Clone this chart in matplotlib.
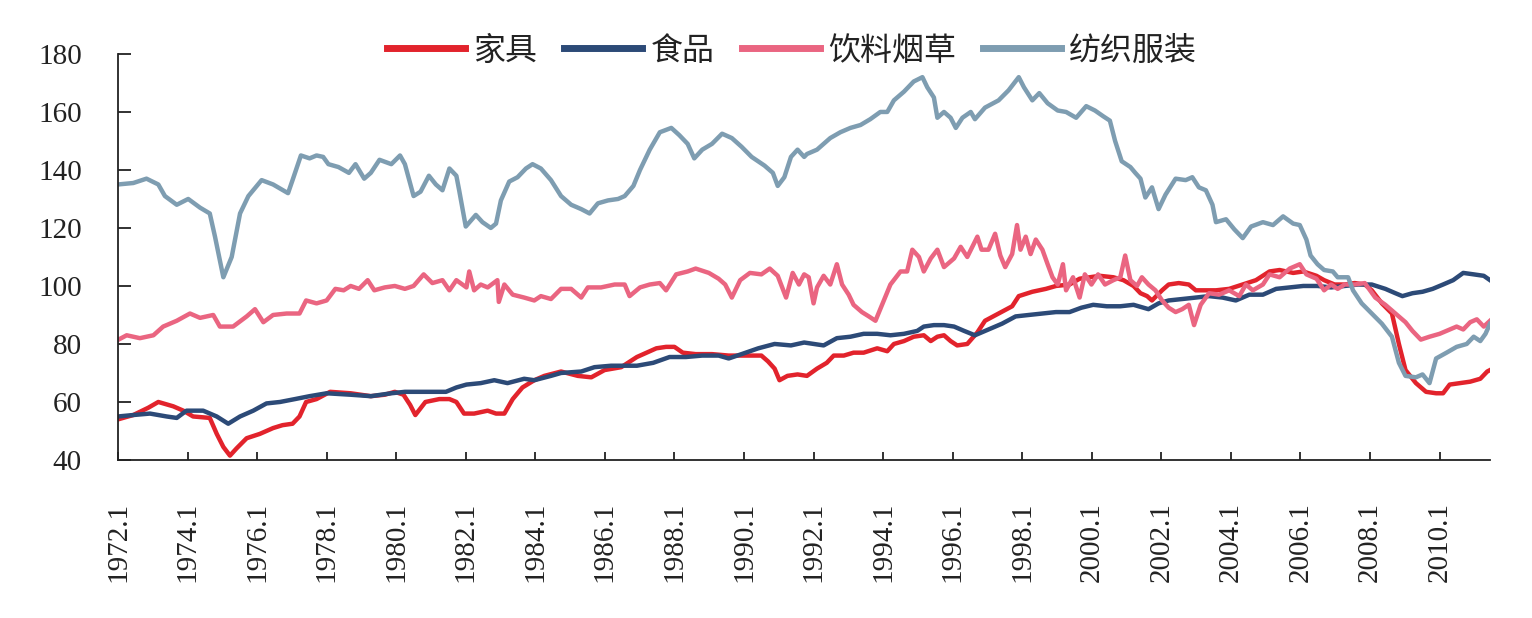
import matplotlib
matplotlib.use("Agg")
import matplotlib.pyplot as plt
from matplotlib.font_manager import FontProperties

# ---------------- data (decimal year, index value) ----------------
furniture_x = [1972.00, 1972.44, 1972.87, 1973.16, 1973.59, 1973.88, 1974.16, 1974.64, 1974.84, 1975.03,
               1975.22, 1975.41, 1975.70, 1976.08, 1976.46, 1976.73, 1977.02, 1977.22, 1977.41, 1977.71,
               1978.10, 1978.69, 1979.27, 1979.67, 1979.96, 1980.21, 1980.40, 1980.55, 1980.84, 1981.24,
               1981.53, 1981.73, 1981.95, 1982.24, 1982.63, 1982.87, 1983.11, 1983.35, 1983.63, 1983.97,
               1984.26, 1984.74, 1985.22, 1985.61, 1985.99, 1986.47, 1986.92, 1987.20, 1987.48, 1987.76,
               1988.00, 1988.24, 1988.61, 1989.08, 1989.56, 1990.03, 1990.50, 1990.69, 1990.88, 1991.02,
               1991.25, 1991.54, 1991.81, 1992.10, 1992.38, 1992.58, 1992.87, 1993.15, 1993.44, 1993.83,
               1994.12, 1994.31, 1994.60, 1994.88, 1995.17, 1995.37, 1995.56, 1995.75, 1995.94, 1996.13,
               1996.42, 1996.71, 1996.93, 1997.32, 1997.71, 1997.90, 1998.29, 1998.68, 1998.97, 1999.36,
               1999.65, 1999.94, 2000.23, 2000.62, 2000.91, 2001.20, 2001.40, 2001.59, 2001.73, 2002.02,
               2002.21, 2002.50, 2002.79, 2002.99, 2003.57, 2003.95, 2004.34, 2004.72, 2005.11, 2005.40,
               2005.79, 2006.08, 2006.46, 2006.68, 2006.98, 2007.27, 2007.56, 2007.85, 2008.05, 2008.34,
               2008.63, 2008.83, 2009.02, 2009.32, 2009.61, 2009.90, 2010.10, 2010.29, 2010.59, 2010.88,
               2011.17, 2011.37, 2011.45]
furniture_y = [54, 55.5, 58, 60, 58.5, 57, 55, 54.5, 49, 44.5,
               41.5, 44, 47.5, 49, 51, 52, 52.5, 55, 60, 61,
               63.5, 63, 62, 62.5, 63.5, 62.5, 59, 55.5, 60, 61,
               61, 60, 56, 56, 57, 56, 56, 61, 65, 67.5,
               69, 70.5, 69, 68.5, 71, 72, 75.5, 77, 78.5, 79,
               79, 77, 76.5, 76.5, 76, 76, 76, 74, 71.5, 67.5,
               69, 69.5, 69, 71.5, 73.5, 76, 76, 77, 77, 78.5,
               77.5, 80, 81, 82.5, 83, 81, 82.5, 83, 81, 79.5,
               80, 84, 88, 90.5, 93, 96.5, 98, 99, 100, 100.5,
               102.5, 103, 103.5, 103, 102, 100, 97.5, 96.5, 95, 98.5,
               100.5, 101, 100.5, 98.5, 98.5, 99, 100.5, 102, 105, 105.5,
               104.5, 105, 103.5, 102, 100.5, 100.5, 101, 100.5, 98.5, 94,
               90.5, 80, 71, 66.5, 63.5, 63, 63, 66, 66.5, 67,
               68, 70.5, 71]

food_x = [1972.00, 1972.44, 1972.92, 1973.40, 1973.69, 1973.97, 1974.45, 1974.84, 1975.17, 1975.51,
          1975.89, 1976.27, 1976.66, 1977.09, 1977.51, 1978.00, 1978.69, 1979.27, 1979.86, 1980.25,
          1980.84, 1981.43, 1981.73, 1982.02, 1982.43, 1982.82, 1983.20, 1983.68, 1983.97, 1984.45,
          1984.74, 1985.32, 1985.70, 1986.18, 1986.47, 1986.92, 1987.39, 1987.86, 1988.33, 1988.80,
          1989.27, 1989.56, 1989.93, 1990.41, 1990.88, 1991.35, 1991.73, 1992.29, 1992.67, 1993.06,
          1993.44, 1993.83, 1994.21, 1994.60, 1994.98, 1995.17, 1995.46, 1995.75, 1996.04, 1996.33,
          1996.64, 1997.03, 1997.42, 1997.81, 1998.19, 1998.58, 1998.97, 1999.36, 1999.70, 2000.04,
          2000.43, 2000.82, 2001.20, 2001.63, 2001.92, 2002.21, 2002.60, 2002.99, 2003.37, 2003.76,
          2004.14, 2004.53, 2004.92, 2005.30, 2005.69, 2006.08, 2006.49, 2006.88, 2007.27, 2007.66,
          2008.05, 2008.44, 2008.73, 2008.93, 2009.22, 2009.51, 2009.80, 2010.10, 2010.39, 2010.68,
          2010.98, 2011.27, 2011.45]
food_y = [55, 55.5, 56, 55, 54.5, 57, 57, 55, 52.5, 55,
          57, 59.5, 60, 61, 62, 63, 62.5, 62, 63, 63.5,
          63.5, 63.5, 65, 66, 66.5, 67.5, 66.5, 68, 67.5, 69,
          70, 70.5, 72, 72.5, 72.5, 72.5, 73.5, 75.5, 75.5, 76,
          76, 75, 76.5, 78.5, 80, 79.5, 80.5, 79.5, 82, 82.5,
          83.5, 83.5, 83, 83.5, 84.5, 86, 86.5, 86.5, 86, 84.5,
          83, 85, 87, 89.5, 90, 90.5, 91, 91, 92.5, 93.5,
          93, 93, 93.5, 92, 94, 95, 95.5, 96, 96.5, 96,
          95, 97, 97, 99, 99.5, 100, 100, 99.5, 100, 100.5,
          100.5, 99, 97.5, 96.5, 97.5, 98, 99, 100.5, 102, 104.5,
          104, 103.5, 102]

beverage_x = [1972.00, 1972.25, 1972.63, 1973.02, 1973.30, 1973.69, 1974.07, 1974.36, 1974.74, 1974.93,
              1975.31, 1975.70, 1975.94, 1976.18, 1976.46, 1976.85, 1977.22, 1977.41, 1977.71, 1978.00,
              1978.25, 1978.49, 1978.69, 1978.93, 1979.18, 1979.37, 1979.67, 1979.96, 1980.25, 1980.50,
              1980.79, 1981.04, 1981.33, 1981.53, 1981.73, 1982.02, 1982.10, 1982.24, 1982.43, 1982.63,
              1982.91, 1982.95, 1983.11, 1983.35, 1983.68, 1983.97, 1984.16, 1984.45, 1984.74, 1985.03,
              1985.32, 1985.51, 1985.89, 1986.28, 1986.57, 1986.71, 1987.01, 1987.29, 1987.58, 1987.76,
              1988.05, 1988.38, 1988.61, 1988.99, 1989.27, 1989.46, 1989.65, 1989.89, 1990.17, 1990.50,
              1990.74, 1990.97, 1991.21, 1991.40, 1991.58, 1991.73, 1991.86, 1992.00, 1992.10, 1992.29,
              1992.48, 1992.67, 1992.82, 1993.01, 1993.15, 1993.39, 1993.59, 1993.78, 1993.97, 1994.21,
              1994.50, 1994.69, 1994.84, 1995.03, 1995.17, 1995.37, 1995.56, 1995.75, 1996.04, 1996.23,
              1996.42, 1996.71, 1996.83, 1997.03, 1997.22, 1997.37, 1997.51, 1997.71, 1997.85, 1997.95,
              1998.10, 1998.24, 1998.39, 1998.58, 1998.73, 1998.87, 1999.02, 1999.17, 1999.26, 1999.46,
              1999.65, 1999.80, 1999.99, 2000.18, 2000.38, 2000.62, 2000.82, 2000.96, 2001.11, 2001.30,
              2001.44, 2001.63, 2001.83, 2002.02, 2002.21, 2002.41, 2002.60, 2002.79, 2002.94, 2003.13,
              2003.37, 2003.66, 2003.95, 2004.24, 2004.43, 2004.63, 2004.92, 2005.11, 2005.40, 2005.69,
              2005.98, 2006.17, 2006.46, 2006.68, 2006.88, 2007.07, 2007.27, 2007.56, 2007.85, 2008.15,
              2008.44, 2008.73, 2009.02, 2009.22, 2009.46, 2009.71, 2010.00, 2010.29, 2010.49, 2010.68,
              2010.88, 2011.07, 2011.27, 2011.45]
beverage_y = [81.4, 83, 82, 83, 86, 88, 90.5, 89, 90, 86,
              86, 89.5, 92, 87.5, 90, 90.5, 90.5, 95, 94, 95,
              99, 98.5, 100, 99, 102, 98.5, 99.5, 100, 99, 100,
              104, 101, 102, 98.5, 102, 99.5, 105, 98.5, 100.5, 99.5,
              102, 94.5, 100.5, 97, 96, 95, 96.5, 95.5, 99, 99,
              96, 99.5, 99.5, 100.5, 100.5, 96.5, 99.5, 100.5, 101, 98.5,
              104, 105, 106, 104.5, 102.5, 100.5, 96, 102, 104.5, 104,
              106, 103.5, 96, 104.5, 100.5, 104, 103, 94, 99.5, 103.5,
              100.5, 107.5, 100.5, 97, 93.5, 91, 89.5, 88, 93.5, 100.5,
              105, 105, 112.5, 110, 105, 109.5, 112.5, 106.5, 109.5, 113.5,
              110, 117, 112.5, 112.5, 118, 110.5, 106.5, 111, 121, 112.5,
              117, 111, 116, 112.5, 107.5, 103, 100.5, 107.5, 98.5, 103,
              96, 104, 100.5, 104, 100.5, 102, 103, 110.5, 102, 100,
              103, 100.5, 98.5, 95, 92.5, 91, 92, 93.5, 86.5, 93.5,
              97.5, 97, 98.5, 96.5, 100.5, 98.5, 100.5, 104, 103, 106,
              107.5, 104, 102.5, 98.5, 100.5, 99, 100.5, 100.5, 101, 96,
              93.5, 90.5, 87.5, 84.5, 81.5, 82.5, 83.5, 85, 86, 85,
              87.5, 88.5, 86, 88]

textile_x = [1972.00, 1972.44, 1972.82, 1973.16, 1973.35, 1973.69, 1974.02, 1974.36, 1974.64, 1974.79,
             1975.03, 1975.27, 1975.51, 1975.75, 1976.13, 1976.46, 1976.89, 1977.02, 1977.26, 1977.51,
             1977.71, 1977.90, 1978.05, 1978.34, 1978.64, 1978.83, 1979.08, 1979.27, 1979.52, 1979.86,
             1980.11, 1980.25, 1980.50, 1980.70, 1980.94, 1981.14, 1981.33, 1981.53, 1981.73, 1981.81,
             1982.00, 1982.29, 1982.48, 1982.72, 1982.87, 1983.01, 1983.25, 1983.49, 1983.73, 1983.92,
             1984.16, 1984.45, 1984.74, 1985.03, 1985.32, 1985.56, 1985.80, 1986.09, 1986.38, 1986.57,
             1986.82, 1987.01, 1987.29, 1987.58, 1987.91, 1988.14, 1988.38, 1988.57, 1988.80, 1989.08,
             1989.37, 1989.65, 1989.93, 1990.22, 1990.59, 1990.83, 1990.97, 1991.16, 1991.35, 1991.54,
             1991.73, 1991.81, 1992.10, 1992.48, 1992.77, 1993.06, 1993.35, 1993.63, 1993.92, 1994.12,
             1994.31, 1994.60, 1994.88, 1995.13, 1995.27, 1995.46, 1995.56, 1995.75, 1995.94, 1996.09,
             1996.28, 1996.52, 1996.64, 1996.93, 1997.32, 1997.61, 1997.90, 1998.05, 1998.29, 1998.49,
             1998.73, 1999.02, 1999.26, 1999.55, 1999.84, 2000.09, 2000.33, 2000.52, 2000.67, 2000.86,
             2001.11, 2001.25, 2001.40, 2001.54, 2001.73, 2001.92, 2002.12, 2002.41, 2002.70, 2002.89,
             2003.08, 2003.28, 2003.47, 2003.57, 2003.86, 2004.10, 2004.34, 2004.58, 2004.92, 2005.21,
             2005.50, 2005.79, 2005.98, 2006.17, 2006.29, 2006.49, 2006.68, 2006.93, 2007.07, 2007.37,
             2007.51, 2007.76, 2008.05, 2008.34, 2008.63, 2008.83, 2009.02, 2009.32, 2009.51, 2009.71,
             2009.90, 2010.20, 2010.49, 2010.78, 2010.98, 2011.17, 2011.32, 2011.45]
textile_y = [135, 135.5, 137, 135, 131, 128, 130, 127, 125, 117,
             103, 110, 125, 131, 136.5, 135, 132, 136.5, 145, 144,
             145, 144.5, 142, 141, 139, 142, 137, 139, 143.5, 142,
             145, 142, 131, 132.5, 138, 135, 133, 140.5, 138, 133,
             120.5, 124.5, 122, 120, 121.5, 129.5, 136, 137.5, 140.5, 142,
             140.5, 136.5, 131, 128, 126.5, 125, 128.5, 129.5, 130, 131,
             134.5, 140, 147, 153, 154.5, 152, 149, 144, 147, 149,
             152.5, 151, 148, 144.5, 141.5, 139, 134.5, 137.5, 144.5, 147,
             144.5, 145.5, 147, 151, 153, 154.5, 155.5, 157.5, 160, 160,
             164, 167, 170.5, 172, 168.5, 165, 158, 160, 158, 154.5,
             158, 160, 157.5, 161.5, 164, 167.5, 172, 168.5, 164, 166.5,
             163, 160.5, 160, 158, 162, 160.5, 158.5, 157, 150, 143,
             141, 139, 137, 130.5, 134, 126.5, 131.5, 137, 136.5, 137.5,
             134, 133, 128, 122, 123, 119.5, 116.5, 120.5, 122, 121,
             124, 121.5, 121, 116, 110.5, 107.5, 105.5, 105, 103, 103,
             98.5, 94, 90.5, 87, 82.5, 73.5, 69, 68.5, 69.5, 66.5,
             75, 77, 79, 80, 82.5, 81, 83.5, 87]

series_names = ["家具", "食品", "饮料烟草", "纺织服装"]
series_colors = ["#E2232C", "#2C4A77", "#EA6581", "#7E9DB1"]

y_ticks = [40, 60, 80, 100, 120, 140, 160, 180]
x_tick_years = list(range(1972, 2011, 2))
x_tick_labels = [f"{y}.1" for y in x_tick_years]

# ---------------- figure ----------------
fig = plt.figure(figsize=(15.32, 6.18), dpi=100)
ax = fig.add_axes([0.077, 0.2557, 0.8956, 0.657])

data = [(furniture_x, furniture_y), (food_x, food_y),
        (beverage_x, beverage_y), (textile_x, textile_y)]
lines = []
for (xs, ys), name, col in zip(data, series_names, series_colors):
    ln, = ax.plot(xs, ys, color=col, lw=3.2, label=name, solid_joinstyle="round")
    lines.append(ln)

ax.set_xlim(1972.0, 2011.45)
ax.set_ylim(40, 180)
ax.set_yticks(y_ticks)
ax.set_xticks(x_tick_years)

num_font = FontProperties(family="Liberation Serif", size=21)
ax.set_yticklabels([str(v) for v in y_ticks], fontproperties=num_font)
ax.set_xticklabels(x_tick_labels, fontproperties=num_font, rotation=90)

for s in ["top", "right"]:
    ax.spines[s].set_visible(False)
for s in ["left", "bottom"]:
    ax.spines[s].set_linewidth(1.3)
    ax.spines[s].set_color("#222222")

ax.tick_params(axis="y", direction="in", length=9, width=1.3, pad=26, colors="#222222")
ax.tick_params(axis="x", direction="in", length=6, width=1.3, pad=30, colors="#222222")
for lab in ax.get_yticklabels() + ax.get_xticklabels():
    lab.set_color("#222222")

leg_font = FontProperties(family=["Noto Sans CJK SC", "DejaVu Sans"], size=23)
leg = fig.legend(handles=lines, labels=series_names, loc="center",
                 bbox_to_anchor=(0.517, 0.918), ncol=4, frameon=False,
                 prop=leg_font, handlelength=2.45, handletextpad=0.25,
                 columnspacing=0.85, borderaxespad=0)
for h in leg.legend_handles:
    h.set_linewidth(5)
for t in leg.get_texts():
    t.set_color("#222222")

fig.savefig("out.png", dpi=100)
